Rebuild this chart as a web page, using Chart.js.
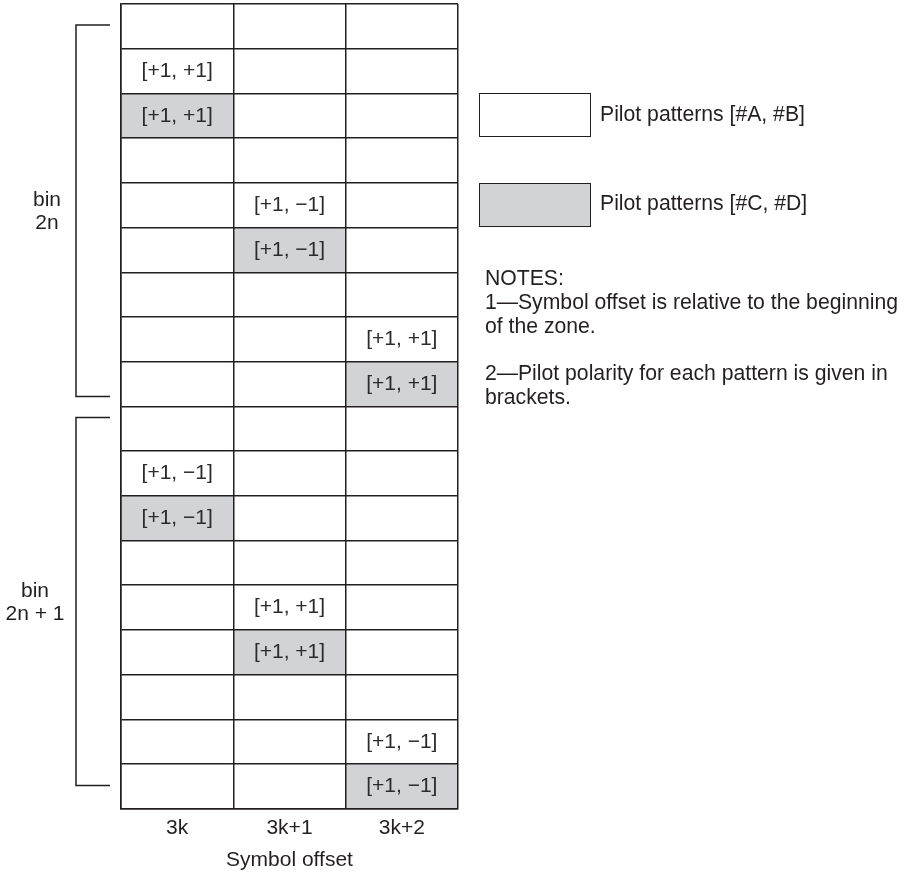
<!DOCTYPE html>
<html>
<head>
<meta charset="utf-8">
<script src="https://cdn.jsdelivr.net/npm/chart.js@4.4.0/dist/chart.umd.min.js"></script>
<style>
  body { margin: 0; background: #fff; }
  #wrap { position: relative; width: 904px; height: 874px; font-family: "Liberation Sans", Arial, sans-serif; color: #231f20; }
  #wrap canvas { position: absolute; left: 0; top: 0; }
  .key { position: absolute; left: 479px; width: 112px; height: 44px; border: 1.5px solid #231f20; box-sizing: border-box; background: #fff; }
  .key.shaded { background: #d1d3d4; }
  .key-text { position: absolute; left: 600px; font-size: 21.2px; line-height: 24px; white-space: nowrap; }
  #notes { position: absolute; left: 485px; top: 266px; font-size: 21.2px; line-height: 24px; white-space: nowrap; }
  #notes p { margin: 0 0 23px 0; }
</style>
</head>
<body>
<div id="wrap">
  <canvas id="grid" width="904" height="874"></canvas>
  <div class="key" style="top:93px"></div>
  <div class="key-text" style="top:102px">Pilot patterns [#A, #B]</div>
  <div class="key shaded" style="top:183px"></div>
  <div class="key-text" style="top:191px">Pilot patterns [#C, #D]</div>
  <div id="notes">
    <p>NOTES:<br>1—Symbol offset is relative to the beginning<br>of the zone.</p>
    <p>2—Pilot polarity for each pattern is given in<br>brackets.</p>
  </div>
</div>
<script>
const columns = ["3k", "3k+1", "3k+2"];
const rowCount = 18;

// grey cells (pilot patterns #C, #D)
const shadedRows = [2, 5, 8, 11, 14, 17];
const shadedCols = [0, 1, 2, 0, 1, 2];

// polarity written inside cells
const polarityRows = [1, 2, 4, 5, 7, 8, 10, 11, 13, 14, 16, 17];
const polarityCols = [0, 0, 1, 1, 2, 2, 0, 0, 1, 1, 2, 2];
const polarityText = [
  "[+1, +1]", "[+1, +1]", "[+1, \u22121]", "[+1, \u22121]", "[+1, +1]", "[+1, +1]",
  "[+1, \u22121]", "[+1, \u22121]", "[+1, +1]", "[+1, +1]", "[+1, \u22121]", "[+1, \u22121]",
];

// bins on the left
const binNames = ["2n", "2n + 1"];
const binFirstRow = [0, 9];
const binLastRow = [8, 17];

const ink = "#231f20";
const grey = "#d1d3d4";
const family = "'Liberation Sans', Arial, sans-serif";
Chart.defaults.font.family = family;

const cellText = {
  id: "cellText",
  afterDraw(chart) {
    const ctx = chart.ctx;
    const xs = chart.scales.x;
    const ys = chart.scales.y;
    ctx.save();
    ctx.fillStyle = "#2b2b2b";
    ctx.font = "21px " + family;
    ctx.textAlign = "center";
    ctx.textBaseline = "middle";
    polarityText.forEach((t, i) => {
      ctx.fillText(t, xs.getPixelForValue(polarityCols[i]), ys.getPixelForValue(polarityRows[i] + 0.5));
    });
    ctx.restore();
  },
};

const binBrackets = {
  id: "binBrackets",
  afterDraw(chart) {
    const ctx = chart.ctx;
    const ys = chart.scales.y;
    const left = chart.chartArea.left;
    const insetTop = [0.47, 0.25];
    const insetBottom = [0.22, 0.52];
    const labelX = [47, 35];
    ctx.save();
    ctx.strokeStyle = ink;
    ctx.lineWidth = 1.5;
    ctx.fillStyle = ink;
    ctx.font = "21px " + family;
    ctx.textAlign = "center";
    ctx.textBaseline = "middle";
    binNames.forEach((name, i) => {
      const top = ys.getPixelForValue(binFirstRow[i] + insetTop[i]);
      const bottom = ys.getPixelForValue(binLastRow[i] + 1 - insetBottom[i]);
      const x0 = left - 45;
      const x1 = left - 11;
      ctx.beginPath();
      ctx.moveTo(x1, top);
      ctx.lineTo(x0, top);
      ctx.lineTo(x0, bottom);
      ctx.lineTo(x1, bottom);
      ctx.stroke();
      const mid = (top + bottom) / 2 + 1;
      ctx.fillText("bin", labelX[i], mid - 11.5);
      ctx.fillText(name, labelX[i], mid + 11.5);
    });
    ctx.restore();
  },
};

const ctx = document.getElementById("grid");
const chart = new Chart(ctx, {
  type: "bar",
  data: {
    labels: columns,
    datasets: [
      {
        data: shadedRows.map((r, i) => ({ x: columns[shadedCols[i]], y: [r, r + 1] })),
        backgroundColor: grey,
        borderWidth: 0,
        categoryPercentage: 1,
        barPercentage: 1,
      },
    ],
  },
  options: {
    responsive: false,
    animation: false,
    layout: { padding: { left: 121, right: 446, top: 4, bottom: 0 } },
    plugins: { legend: { display: false }, tooltip: { enabled: false } },
    scales: {
      x: {
        grid: { color: ink, lineWidth: 1.5, drawTicks: false, offset: true, z: 1 },
        border: { color: ink, width: 1.5, z: 1 },
        ticks: { color: ink, padding: 9, font: { size: 21, lineHeight: 1.0 } },
        title: {
          display: true,
          text: "Symbol offset",
          color: ink,
          font: { size: 21, lineHeight: 1.2 },
          padding: { top: 0, bottom: 1 },
        },
      },
      y: {
        min: 0,
        max: rowCount,
        reverse: true,
        ticks: { display: false, stepSize: 1 },
        grid: { color: ink, lineWidth: 1.5, drawTicks: false, z: 1 },
        border: { color: ink, width: 1.5, z: 1 },
      },
    },
  },
  plugins: [cellText, binBrackets],
});
</script>
</body>
</html>
